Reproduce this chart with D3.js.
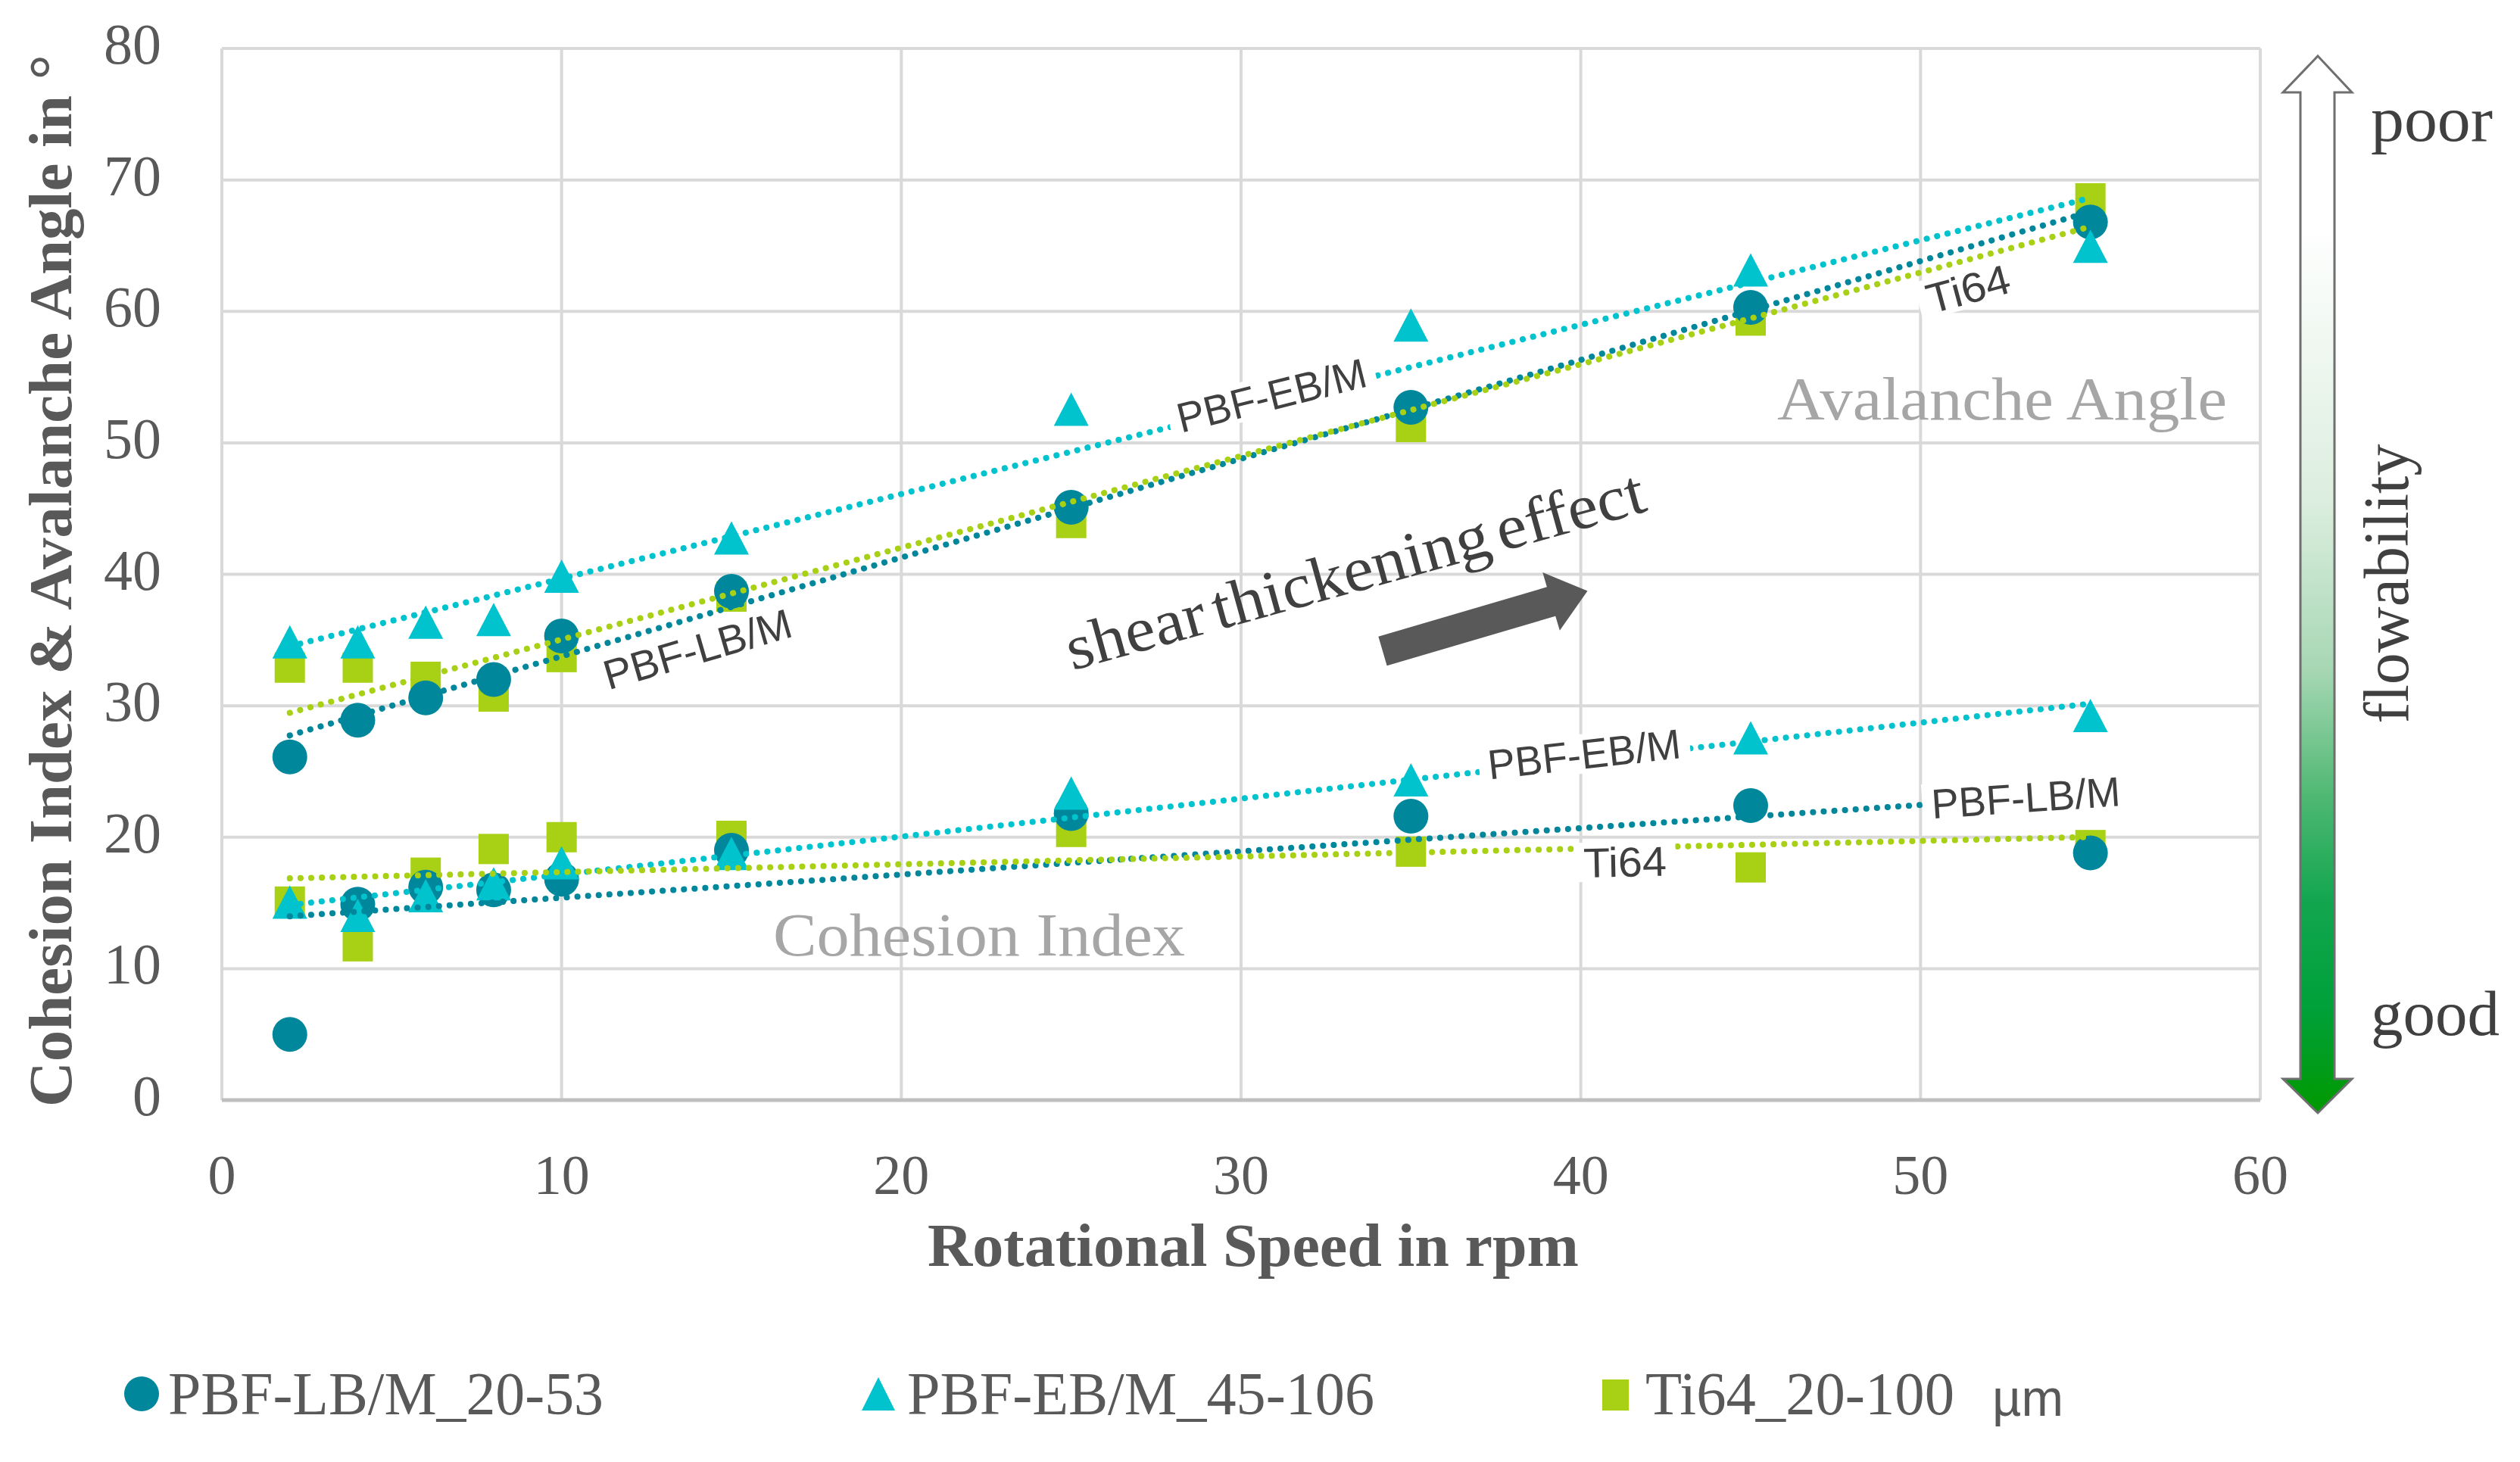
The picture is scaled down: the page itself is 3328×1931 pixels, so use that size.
<!DOCTYPE html>
<html>
<head>
<meta charset="utf-8">
<script src="https://cdn.jsdelivr.net/npm/d3@7"></script>
<style>
  body { margin: 0; background: #fff; }
  svg { display: block; }
</style>
</head>
<body>
<svg id="chart"></svg>
<script>
// values
var speeds = [2, 4, 6, 8, 10, 15, 25, 35, 45, 55];
var lbAvalanche = [26.1, 28.9, 30.6, 32.0, 35.3, 38.7, 45.1, 52.7, 60.3, 66.8];
var lbCohesion = [5.0, 14.9, 16.2, 16.0, 16.8, 19.0, 21.8, 21.6, 22.4, 18.8];
var ebAvalanche = [34.8, 34.8, 36.3, 36.5, 39.8, 42.7, 52.5, 58.9, 63.1, 64.9];
var ebCohesion = [15.0, 14.0, 15.5, 16.4, 18.0, 18.7, 23.3, 24.3, 27.5, 29.2];
var tiAvalanche = [32.9, 32.9, 32.2, 30.7, 33.7, 38.3, 43.9, 51.2, 59.3, 68.6];
var tiCohesion = [15.1, 11.7, 17.3, 19.1, 20.0, 20.1, 20.4, 18.9, 17.7, 19.4];

var xTicks = [0, 10, 20, 30, 40, 50, 60];
var yTicks = [0, 10, 20, 30, 40, 50, 60, 70, 80];
var legendNames = ["PBF-LB/M_20-53", "PBF-EB/M_45-106", "Ti64_20-100"];

var width = 3328;
var height = 1931;

var colors = { lb: "#01879B", eb: "#00C3CE", ti: "#A8D116" };

var x = d3.scaleLinear().domain([0, 60]).range([293, 2985]);
var y = d3.scaleLinear().domain([0, 80]).range([1453, 64]);

var svg = d3.select("#chart")
    .attr("width", width)
    .attr("height", height)
    .attr("viewBox", [0, 0, width, height]);

svg.append("rect").attr("width", width).attr("height", height).attr("fill", "#fff");

// grid
var grid = svg.append("g").attr("stroke", "#D9D9D9").attr("stroke-width", 4);
grid.selectAll("line.h")
  .data(yTicks)
  .join("line")
    .attr("class", "h")
    .attr("x1", x(0)).attr("x2", x(60))
    .attr("y1", d => y(d)).attr("y2", d => y(d));
grid.selectAll("line.v")
  .data(xTicks)
  .join("line")
    .attr("class", "v")
    .attr("y1", y(0)).attr("y2", y(80))
    .attr("x1", d => x(d)).attr("x2", d => x(d));
svg.append("line")
    .attr("x1", x(0)).attr("x2", x(60))
    .attr("y1", y(0)).attr("y2", y(0))
    .attr("stroke", "#BFBFBF").attr("stroke-width", 5);

// tick labels
svg.append("g")
    .attr("font-family", "'Liberation Serif', serif")
    .attr("font-size", 76)
    .attr("fill", "#595959")
    .attr("text-anchor", "end")
  .selectAll("text")
  .data(yTicks)
  .join("text")
    .attr("x", 213)
    .attr("y", d => y(d) + 20)
    .text(d => d);

svg.append("g")
    .attr("font-family", "'Liberation Serif', serif")
    .attr("font-size", 74)
    .attr("fill", "#595959")
    .attr("text-anchor", "middle")
  .selectAll("text")
  .data(xTicks)
  .join("text")
    .attr("x", d => x(d))
    .attr("y", 1577)
    .text(d => d);

// axis titles
svg.append("text")
    .attr("transform", "translate(94,767) rotate(-90)")
    .attr("text-anchor", "middle")
    .attr("font-family", "'Liberation Serif', serif")
    .attr("font-weight", "bold")
    .attr("font-size", 80)
    .attr("fill", "#595959")
    .attr("textLength", 1390)
    .attr("lengthAdjust", "spacingAndGlyphs")
    .text("Cohesion Index & Avalanche Angle in °");

svg.append("text")
    .attr("x", 1655)
    .attr("y", 1672)
    .attr("text-anchor", "middle")
    .attr("font-family", "'Liberation Serif', serif")
    .attr("font-weight", "bold")
    .attr("font-size", 80)
    .attr("fill", "#595959")
    .attr("textLength", 860)
    .attr("lengthAdjust", "spacingAndGlyphs")
    .text("Rotational Speed in rpm");

// markers, Ti64 first so the circles and triangles sit over it
function pts(ys) { return speeds.map((s, i) => ({ x: s, y: ys[i] })); }

var marks = svg.append("g");
marks.append("g").attr("fill", colors.ti)
  .selectAll("rect")
  .data(pts(tiAvalanche).concat(pts(tiCohesion)))
  .join("rect")
    .attr("x", d => x(d.x) - 20)
    .attr("y", d => y(d.y) - 20)
    .attr("width", 40)
    .attr("height", 40);

marks.append("g").attr("fill", colors.lb)
  .selectAll("circle")
  .data(pts(lbAvalanche).concat(pts(lbCohesion)))
  .join("circle")
    .attr("cx", d => x(d.x))
    .attr("cy", d => y(d.y))
    .attr("r", 23);

marks.append("g").attr("fill", colors.eb)
  .selectAll("path")
  .data(pts(ebAvalanche).concat(pts(ebCohesion)))
  .join("path")
    .attr("d", d => `M${x(d.x)},${y(d.y) - 23}L${x(d.x) + 23},${y(d.y) + 21}L${x(d.x) - 23},${y(d.y) + 21}Z`);

// linear trendlines (least squares, like the spreadsheet does)
function linFit(xs, ys) {
  var mx = d3.mean(xs), my = d3.mean(ys);
  var sxy = d3.sum(xs, (v, i) => (v - mx) * (ys[i] - my));
  var sxx = d3.sum(xs, v => (v - mx) * (v - mx));
  var b = sxy / sxx;
  return { slope: b, icept: my - b * mx };
}

var fits = {
  lbA: linFit(speeds, lbAvalanche), lbC: linFit(speeds, lbCohesion),
  ebA: linFit(speeds, ebAvalanche), ebC: linFit(speeds, ebCohesion),
  tiA: linFit(speeds, tiAvalanche), tiC: linFit(speeds, tiCohesion)
};
var fitColor = { lbA: colors.lb, lbC: colors.lb, ebA: colors.eb, ebC: colors.eb, tiA: colors.ti, tiC: colors.ti };

var x0 = d3.min(speeds), x1 = d3.max(speeds);
svg.append("g")
    .attr("fill", "none")
    .attr("stroke-width", 8)
    .attr("stroke-linecap", "round")
    .attr("stroke-dasharray", "0.1 14")
  .selectAll("line")
  .data(Object.keys(fits))
  .join("line")
    .attr("stroke", k => fitColor[k])
    .attr("x1", x(x0)).attr("x2", x(x1))
    .attr("y1", k => y(fits[k].icept + fits[k].slope * x0))
    .attr("y2", k => y(fits[k].icept + fits[k].slope * x1));

// trendline labels (placement in data units)
var labelSpots = [
  { fit: "ebA", text: "PBF-EB/M", sx: 30.9, sy: 53.6, w: 256 },
  { fit: "lbA", text: "PBF-LB/M", sx: 14.0, sy: 34.3, w: 256 },
  { fit: "tiA", text: "Ti64", sx: 51.4, sy: 61.7, w: 112 },
  { fit: "ebC", text: "PBF-EB/M", sx: 40.1, sy: 26.3, w: 256 },
  { fit: "lbC", text: "PBF-LB/M", sx: 53.1, sy: 23.0, w: 250 },
  { fit: "tiC", text: "Ti64", sx: 41.3, sy: 18.1, w: 110 }
];
var pxPerX = (x(60) - x(0)) / 60, pxPerY = (y(0) - y(80)) / 80;

var lab = svg.append("g")
  .selectAll("g")
  .data(labelSpots)
  .join("g")
    .attr("transform", d => {
      var ang = Math.atan(fits[d.fit].slope * pxPerY / pxPerX) * 180 / Math.PI;
      return `translate(${x(d.sx)},${y(d.sy)}) rotate(${-ang})`;
    });
lab.append("rect")
    .attr("x", d => -d.w / 2 - 12)
    .attr("y", -27)
    .attr("width", d => d.w + 24)
    .attr("height", 52)
    .attr("fill", "#fff");
lab.append("text")
    .attr("text-anchor", "middle")
    .attr("y", 19)
    .attr("font-family", "'Liberation Sans', Arial, sans-serif")
    .attr("font-size", 55)
    .attr("fill", "#404040")
    .attr("textLength", d => d.w)
    .attr("lengthAdjust", "spacingAndGlyphs")
    .text(d => d.text);

// region captions
svg.append("text")
    .attr("x", 2347).attr("y", 554)
    .attr("font-family", "'Liberation Serif', serif")
    .attr("font-size", 80)
    .attr("fill", "#A6A6A6")
    .attr("textLength", 594)
    .attr("lengthAdjust", "spacingAndGlyphs")
    .text("Avalanche Angle");

svg.append("text")
    .attr("x", 1021).attr("y", 1262)
    .attr("font-family", "'Liberation Serif', serif")
    .attr("font-size", 80)
    .attr("fill", "#A6A6A6")
    .attr("textLength", 544)
    .attr("lengthAdjust", "spacingAndGlyphs")
    .text("Cohesion Index");

// shear thickening note and block arrow
svg.append("text")
    .attr("transform", "translate(1797,780) rotate(-15.5)")
    .attr("text-anchor", "middle")
    .attr("font-family", "'Liberation Serif', serif")
    .attr("font-size", 84)
    .attr("fill", "#404040")
    .attr("word-spacing", -10)
    .attr("textLength", 790)
    .attr("lengthAdjust", "spacingAndGlyphs")
    .text("shear thickening effect");

svg.append("path")
    .attr("transform", "translate(1826,860) rotate(-16.4)")
    .attr("d", "M0,-20L232,-20L232,-40L282,0L232,40L232,20L0,20Z")
    .attr("fill", "#595959");

// flowability arrow
var defs = svg.append("defs");
var grad = defs.append("linearGradient")
    .attr("id", "flowGrad")
    .attr("gradientUnits", "userSpaceOnUse")
    .attr("x1", 0).attr("x2", 0).attr("y1", 74).attr("y2", 1470);
[[0, "#FFFFFF"], [0.16, "#FFFFFF"], [0.42, "#DCEEDF"], [0.58, "#A7D7B4"],
 [0.7, "#4FB873"], [0.8, "#12A64F"], [0.9, "#00A03A"], [1, "#009900"]].forEach(s => {
  grad.append("stop").attr("offset", s[0]).attr("stop-color", s[1]);
});

svg.append("path")
    .attr("d", "M3061,74L3106,122L3083,122L3083,1425L3106,1425L3061,1470L3015,1425L3038,1425L3038,122L3015,122Z")
    .attr("fill", "url(#flowGrad)")
    .attr("stroke", "#6F6F6F")
    .attr("stroke-width", 3)
    .attr("stroke-linejoin", "miter");

var side = svg.append("g")
    .attr("font-family", "'Liberation Serif', serif")
    .attr("font-size", 84)
    .attr("fill", "#404040");
side.append("text").attr("x", 3131).attr("y", 186)
    .attr("textLength", 161).attr("lengthAdjust", "spacingAndGlyphs").text("poor");
side.append("text").attr("x", 3131).attr("y", 1367)
    .attr("textLength", 170).attr("lengthAdjust", "spacingAndGlyphs").text("good");
side.append("text")
    .attr("transform", "translate(3180,771) rotate(-90)")
    .attr("text-anchor", "middle")
    .attr("textLength", 369).attr("lengthAdjust", "spacingAndGlyphs")
    .text("flowability");

// legend
var legend = svg.append("g")
    .attr("font-family", "'Liberation Serif', serif")
    .attr("font-size", 80)
    .attr("fill", "#595959");
legend.append("circle").attr("cx", 187).attr("cy", 1841).attr("r", 23).attr("fill", colors.lb);
legend.append("text").attr("x", 222).attr("y", 1868)
    .attr("textLength", 575).attr("lengthAdjust", "spacingAndGlyphs").text(legendNames[0]);
legend.append("path").attr("d", "M1160,1819L1182,1863L1138,1863Z").attr("fill", colors.eb);
legend.append("text").attr("x", 1198).attr("y", 1868)
    .attr("textLength", 617).attr("lengthAdjust", "spacingAndGlyphs").text(legendNames[1]);
legend.append("rect").attr("x", 2116).attr("y", 1822).attr("width", 35).attr("height", 41).attr("fill", colors.ti);
legend.append("text").attr("x", 2173).attr("y", 1868)
    .attr("textLength", 408).attr("lengthAdjust", "spacingAndGlyphs").text(legendNames[2]);
legend.append("text").attr("x", 2631).attr("y", 1870)
    .attr("font-family", "'Liberation Sans', Arial, sans-serif")
    .attr("font-size", 68)
    .attr("textLength", 94).attr("lengthAdjust", "spacingAndGlyphs")
    .text("µm");
</script>
</body>
</html>
